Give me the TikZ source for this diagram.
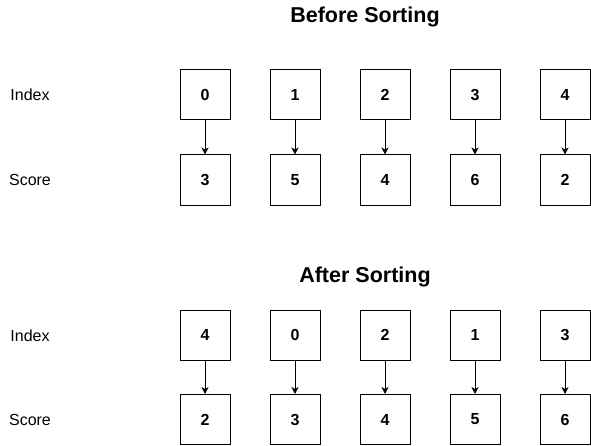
\documentclass[tikz,border=0pt]{standalone}
\usepackage{fontspec}
\setmainfont{Liberation Sans}
\usetikzlibrary{arrows.meta}
\begin{document}
\begin{tikzpicture}[x=1pt,y=1pt,
  cell/.style={draw=black,line width=1pt,minimum width=50pt,minimum height=50pt,inner sep=0pt,
    font=\fontsize{16}{19}\selectfont\bfseries},
  rowlabel/.style={anchor=base,inner sep=0pt,font=\fontsize{16}{19}\selectfont},
  titlelabel/.style={anchor=base,inner sep=0pt,font=\fontsize{21.5}{25}\selectfont\bfseries},
  link/.style={line width=1pt,-{Stealth[length=7pt,width=7pt,inset=2pt]}}]
\useasboundingbox (0,0) rectangle (591,445);
% Before
\node[titlelabel] (t1) at (365,{445-22.3}) {Before Sorting};
\node[rowlabel] (li1) at (30,{445-101}) {Index};
\node[rowlabel] (ls1) at (30,{445-185.7}) {Score};
\foreach \i/\a/\b [count=\k from 0] in {0/0/3,1/1/5,2/2/4,3/3/6,4/4/2} {
  \node[cell] (bi\k) at ({205+90*\k},{445-95}) {\a};
  \node[cell] (bs\k) at ({205+90*\k},{445-180}) {\b};
  \draw[link] (bi\k) -- (bs\k);
}
% After
\node[titlelabel] (t2) at (365,{445-282.3}) {After Sorting};
\node[rowlabel] (li2) at (30,{445-341}) {Index};
\node[rowlabel] (ls2) at (30,{445-425.7}) {Score};
\foreach \i/\a/\b [count=\k from 0] in {0/4/2,1/0/3,2/2/4,3/1/5,4/3/6} {
  \node[cell] (ai\k) at ({205+90*\k},{445-335}) {\a};
  \node[cell] (as\k) at ({205+90*\k},{445-419.5}) {\b};
  \draw[link] (ai\k) -- (as\k);
}
\end{tikzpicture}
\end{document}
